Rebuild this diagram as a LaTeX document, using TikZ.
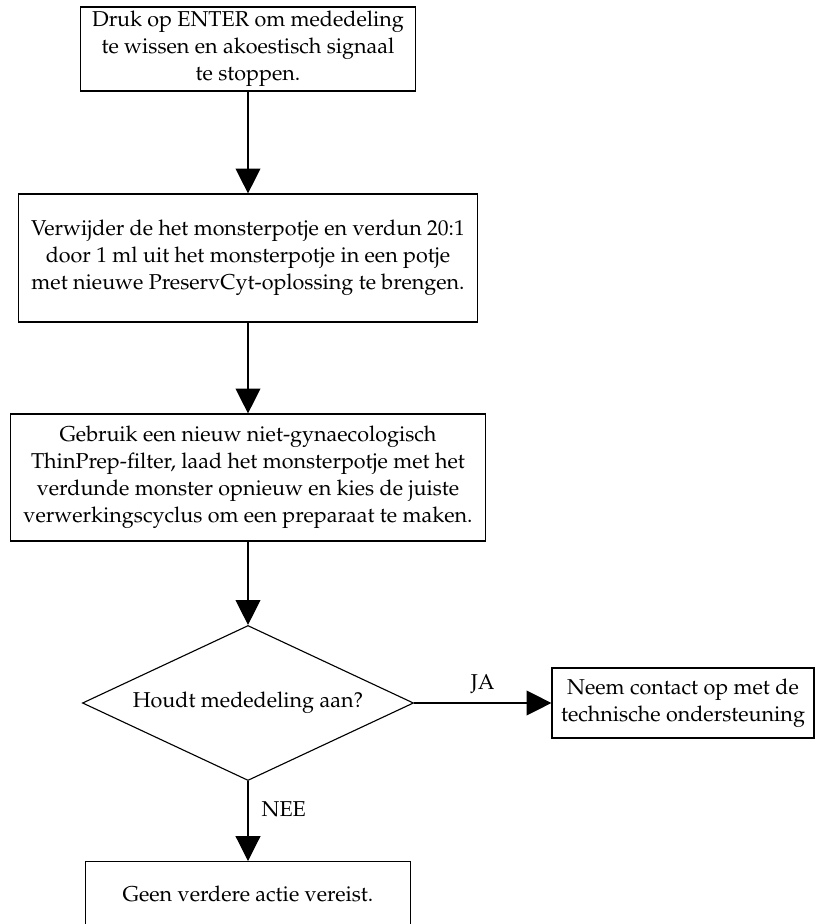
\documentclass[tikz,border=0pt]{standalone}
\usepackage[T1]{fontenc}
\usepackage{mathpazo}
\usetikzlibrary{shapes.geometric,arrows.meta}
\begin{document}
\begin{tikzpicture}[x=0.025cm,y=-0.025cm,
  every node/.style={font=\fontsize{15.3}{19.3}\selectfont,align=center},
  box/.style={draw,line width=.8pt,inner sep=0pt},
  flow/.style={line width=.8pt,-{Triangle[length=.62cm,width=.62cm]}}]
  \useasboundingbox (0,0) rectangle (815,924);
  \node[box,minimum width=8.375cm,minimum height=2.1cm] (druk) at (248,49) {Druk op ENTER om mededeling\\te wissen en akoestisch signaal\\te stoppen.};
  \node[box,minimum width=11.475cm,minimum height=3.2cm] (verwijder) at (248,258) {Verwijder de het monsterpotje en verdun 20:1\\door 1 ml uit het monsterpotje in een potje\\met nieuwe PreservCyt-oplossing te brengen.};
  \node[box,minimum width=11.875cm,minimum height=3.175cm] (gebruik) at (248,477.5) {Gebruik een nieuw niet-gynaecologisch\\ThinPrep-filter, laad het monsterpotje met het\\verdunde monster opnieuw en kies de juiste\\verwerkingscyclus om een preparaat te maken.};
  \node[box,diamond,aspect=2.14,minimum width=8.275cm,minimum height=3.875cm] (houdt) at (248,703) {Houdt mededeling aan?};
  \node[box,minimum width=6.55cm,minimum height=1.75cm] (contact) at (683,703) {Neem contact op met de\\technische ondersteuning};
  \node[box,minimum width=8.125cm,minimum height=1.6cm,anchor=north] (geen) at (248,861) {Geen verdere actie vereist.};
  \draw[flow] (druk) -- (verwijder);
  \draw[flow] (verwijder) -- (gebruik);
  \draw[flow] (gebruik) -- (houdt);
  \draw[flow] (houdt) -- node[above=3pt] {JA} (contact);
  \draw[flow] (houdt) -- node[pos=.35,right=6pt] {NEE} (geen);
\end{tikzpicture}
\end{document}
